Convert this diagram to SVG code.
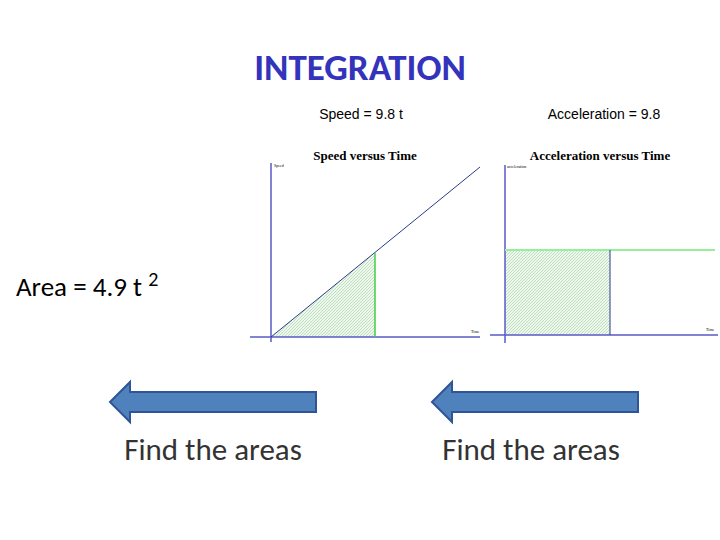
<svg xmlns="http://www.w3.org/2000/svg" width="720" height="540" viewBox="0 0 720 540">
<style>
.t{font-family:"Liberation Sans",Arial,sans-serif}
.c{font-family:Carlito,"Liberation Sans",sans-serif}
.g{font-family:"Liberation Serif",serif}
.ax{stroke:#5a5ac8;stroke-width:1.5}
.arr{fill:#4f81bd;stroke:#2f5597;stroke-width:2}
</style>
<defs>
<pattern id="h" width="3" height="3" patternUnits="userSpaceOnUse"><rect width="3" height="3" fill="#eef8ee"/><path d="M0,3 L3,0" stroke="#9ccf9c" stroke-width="0.6"/></pattern>
</defs>
<rect width="720" height="540" fill="#fff"/>
<text class="c" x="360" y="80" font-size="37" font-weight="bold" fill="#3333bb" text-anchor="middle">INTEGRATION</text>
<text class="t" x="361" y="119" font-size="14" text-anchor="middle">Speed = 9.8 t</text>
<text class="t" x="604" y="119" font-size="14" text-anchor="middle">Acceleration = 9.8</text>
<text class="c" x="16" y="296" font-size="27">Area = 4.9 t <tspan font-size="20" dy="-10">2</tspan></text>
<g id="speedGraph">
<text class="g" x="365" y="160" font-size="13" text-anchor="middle" font-weight="bold">Speed versus Time</text>
<polygon points="271,337 375,253 375,337" fill="url(#h)"/>
<line class="ax" x1="271" y1="163" x2="271" y2="342"/>
<line class="ax" x1="250" y1="337" x2="480" y2="337"/>
<line x1="271" y1="337" x2="480" y2="167" stroke="#2a3a8a" stroke-width="1"/>
<line x1="375" y1="253" x2="375" y2="337" stroke="#44cc44" stroke-width="1.5"/>
<text class="g" x="274" y="167" font-size="4">Speed</text>
<text class="g" x="471" y="333" font-size="4">Time</text>
</g>
<g id="accelGraph">
<text class="g" x="600" y="160" font-size="13" text-anchor="middle" font-weight="bold">Acceleration versus Time</text>
<rect x="505" y="250" width="105" height="85" fill="url(#h)"/>
<line class="ax" x1="505" y1="165" x2="505" y2="343"/>
<line class="ax" x1="490" y1="335" x2="718" y2="335"/>
<line x1="505" y1="250" x2="715" y2="250" stroke="#99ee99" stroke-width="2"/>
<line x1="610" y1="250" x2="610" y2="335" stroke="#2a3a8a" stroke-width="1"/>
<text class="g" x="507" y="168" font-size="4">acceleration</text>
<text class="g" x="706" y="331" font-size="4">Time</text>
</g>
<g id="arrow1"><polygon class="arr" points="110,402 130,382 130,392 316,392 316,412 130,412 130,422"/></g>
<g id="arrow2"><polygon class="arr" points="432,402 452,382 452,392 638,392 638,412 452,412 452,422"/></g>
<text class="c" x="213" y="460" font-size="31" text-anchor="middle" fill="#333">Find the areas</text>
<text class="c" x="531" y="460" font-size="31" text-anchor="middle" fill="#333">Find the areas</text>
</svg>
